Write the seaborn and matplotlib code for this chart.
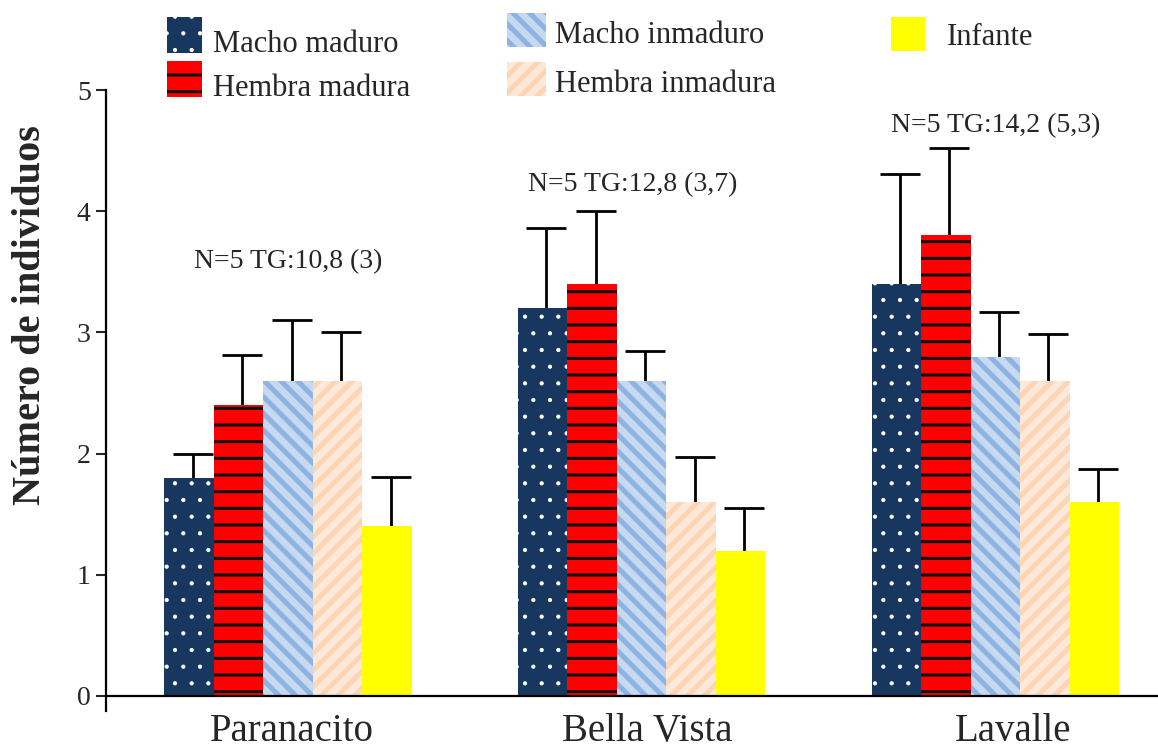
import matplotlib
matplotlib.use("Agg")
import matplotlib.pyplot as plt
import matplotlib.patches as mpatches
import matplotlib.transforms as mtransforms
from matplotlib.container import BarContainer
from matplotlib.legend_handler import HandlerPatch
import seaborn as sns
import pandas as pd
import numpy as np

sites = ["Paranacito", "Bella Vista", "Lavalle"]
groups = ["Macho maduro", "Hembra madura", "Macho inmaduro", "Hembra inmadura", "Infante"]

macho_maduro = [1.8, 3.2, 3.4]
hembra_madura = [2.4, 3.4, 3.8]
macho_inmaduro = [2.6, 2.6, 2.8]
hembra_inmadura = [2.6, 1.6, 2.6]
infante = [1.4, 1.2, 1.6]

err_macho_maduro = [0.2, 0.66, 0.91]
err_hembra_madura = [0.41, 0.6, 0.72]
err_macho_inmaduro = [0.5, 0.25, 0.37]
err_hembra_inmadura = [0.4, 0.37, 0.39]
err_infante = [0.41, 0.35, 0.27]

annotations = ["N=5 TG:10,8 (3)", "N=5 TG:12,8 (3,7)", "N=5 TG:14,2 (5,3)"]
annot_y = [3.58, 4.22, 4.71]

values = [macho_maduro, hembra_madura, macho_inmaduro, hembra_inmadura, infante]
errors = [err_macho_maduro, err_hembra_madura, err_macho_inmaduro, err_hembra_inmadura, err_infante]

face_colors = ["#17375e", "#ff0000", "#c6d9f1", "#fde9d9", "#ffff00"]
hatch_colors = ["#ffffff", "#111111", "#8db3e2", "#fcd5b4", "#ffff00"]
hatches = [".", "-", "\\\\", "//", ""]
hatch_lws = [0.6, 2.2, 3.6, 3.6, 1.0]

rows = []
for g, vals in zip(groups, values):
    for s, v in zip(sites, vals):
        rows.append({"site": s, "grupo": g, "valor": v})
df = pd.DataFrame(rows)

sns.set_style("white")
plt.rcParams["font.family"] = ["Liberation Serif", "DejaVu Serif"]
plt.rcParams["hatch.linewidth"] = 2.2

PX = 0.72  # points per pixel at dpi 100


def set_hlw(p, lw):
    if hasattr(p, "set_hatch_linewidth"):
        p.set_hatch_linewidth(lw)
    else:
        p._hatch_linewidth = lw


fig = plt.figure(figsize=(11.58, 7.49), dpi=100)
ax = fig.add_axes([106 / 1158, 1 - 710.5 / 749, 1 - 106 / 1158, (710.5 - 90) / 749])

sns.barplot(data=df, x="site", y="valor", hue="grupo", order=sites, hue_order=groups,
            palette=face_colors, width=0.7, errorbar=None, linewidth=0, saturation=1,
            legend=False, ax=ax)

err_shift = mtransforms.ScaledTranslation(3.5 / 100, 0, fig.dpi_scale_trans)
bar_conts = [c for c in ax.containers if isinstance(c, BarContainer)]
for i, cont in enumerate(bar_conts):
    xs, hs = [], []
    for bar in cont:
        bar.set_linewidth(0)
        bar.set_facecolor(face_colors[i])
        bar.set_edgecolor(hatch_colors[i])
        bar.set_zorder(2)
        if hatches[i]:
            bar.set_hatch(hatches[i])
            set_hlw(bar, hatch_lws[i])
        xs.append(bar.get_x() + bar.get_width() / 2)
        hs.append(bar.get_height())
    eb = ax.errorbar(xs, hs, yerr=[np.zeros(len(hs)), errors[i]], fmt="none", ecolor="black",
                     elinewidth=2.0, capsize=14.4, capthick=2.0, zorder=1)
    _, caplines, barcols = eb.lines
    if len(caplines) >= 2:
        caplines[0].set_visible(False)
    for art in list(caplines) + list(barcols):
        art.set_transform(ax.transData + err_shift)

ann_shift = [0.0, -0.025, 0.0]
for k, (t, yv) in enumerate(zip(annotations, annot_y)):
    ax.text(k + ann_shift[k], yv, t, ha="center", va="center", fontsize=20)

ax.set_xlim(-0.515, 2.46)
ax.set_ylim(-0.12, 5.0)
ax.set_yticks([0, 1, 2, 3, 4, 5])
ax.set_yticklabels(["0", "1", "2", "3", "4", "5"])
label_dx_px = [4, 6, 18]
ax.set_xticks([k + d / 353.5 for k, d in enumerate(label_dx_px)])
ax.set_xticklabels(sites)
ax.tick_params(axis="x", length=0, pad=12.5, labelsize=28)
ax.tick_params(axis="y", length=7, width=1.5, direction="out", pad=4, left=True, labelsize=20)
ax.set_xlabel("")
ax.set_ylabel("Número de individuos", fontsize=29, fontweight="bold")
ax.yaxis.label.set_va("center")
ax.yaxis.set_label_coords((31 - 106) / 1052, (710.5 - 315) / 620.5)

ax.spines["top"].set_visible(False)
ax.spines["right"].set_visible(False)
ax.spines["bottom"].set_position(("data", 0))
for sp in ["left", "bottom"]:
    ax.spines[sp].set_linewidth(1.6)
    ax.spines[sp].set_color("black")

handles = []
for i, g in enumerate(groups):
    h = mpatches.Patch(facecolor=face_colors[i], edgecolor=hatch_colors[i],
                       hatch=hatches[i] if hatches[i] else None, linewidth=0, label=g)
    set_hlw(h, hatch_lws[i])
    handles.append(h)


class HP(HandlerPatch):
    def __init__(self, h_px, drop_px):
        self.h_pt = h_px * PX
        self.drop_pt = drop_px * PX
        super().__init__(patch_func=self._make)

    def _make(self, legend, orig_handle, xdescent, ydescent, width, height, fontsize):
        return mpatches.Rectangle((-xdescent, -self.drop_pt), width, self.h_pt)

    def update_prop(self, legend_handle, orig_handle, legend):
        super().update_prop(legend_handle, orig_handle, legend)
        set_hlw(legend_handle, getattr(orig_handle, "_hatch_linewidth", 1.0))
        legend_handle.set_linewidth(0)


FS = 22
specs = [
    # handles, left px, top px, patch w px, patch h px, drop px, gap px, row spacing
    (handles[0:2], 167, 28, 35, 36, 1, 11, 0.43),
    (handles[2:4], 507, 19, 39, 34, 4, 9, 0.59),
    (handles[4:5], 891, 21, 34, 34, 6, 22, 0.43),
]
for hs_, left, top, wpx, hpx, drop, gap, ls in specs:
    fig.legend(handles=hs_, bbox_to_anchor=(left / 1158, 1 - top / 749), loc="upper left",
               frameon=False, fontsize=FS, handlelength=wpx * PX / FS, handleheight=1.0,
               handletextpad=gap * PX / FS, labelspacing=ls, borderpad=0, borderaxespad=0,
               handler_map={mpatches.Patch: HP(hpx, drop)})

fig.savefig("out.png", dpi=100)
